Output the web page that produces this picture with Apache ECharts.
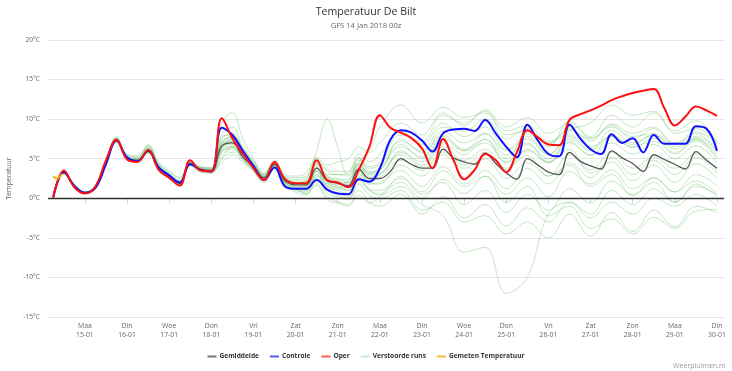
<!DOCTYPE html>
<html>
<head>
<meta charset="utf-8">
<script src="https://cdn.jsdelivr.net/npm/echarts@6/dist/echarts.min.js"></script>
<style>
html,body{margin:0;padding:0;background:#fff;}
#chart{width:732px;height:371px;}
</style>
</head>
<body>
<div id="chart"></div>
<script>
// ---- data (hours since 14-01-2018 00z) ----
const tickHours = [24,48,72,96,120,144,168,192,216,240,264,288,312,336,360,384];
const tickLabels = ['Maa\n15-01','Din\n16-01','Woe\n17-01','Don\n18-01','Vri\n19-01','Zat\n20-01','Zon\n21-01','Maa\n22-01','Din\n23-01','Woe\n24-01','Don\n25-01','Vri\n26-01','Zat\n27-01','Zon\n28-01','Maa\n29-01','Din\n30-01'];

const hours6 = [6,12,18,24,30,36,42,48,54,60,66,72,78,84,90,96,102,108,114,120,126,132,138,144,150,156,162,168,174,180,186,192,198,204,210,216,222,228,234,240,246,252,258,264,270,276,282,288,294,300,306,312,318,324,330,336,342,348,354,360,366,372,378,384];

const gemiddelde = [0.3,3.3,1.5,0.7,1.5,4.6,7.4,5.1,4.8,6.0, 3.9,2.8,1.9,4.4,3.6,3.5,6.6,7.0,5.2,4.0, 2.6,4.3,2.2,1.7,1.7,3.8,2.2,1.9,1.6,3.7, 2.5,2.5,3.4,5.0,4.3,3.8,3.8,6.2,5.1,4.6, 4.3,5.7,4.4,3.2,2.4,5.0,4.2,3.3,3.0,5.8, 4.7,4.1,3.7,6.0,5.1,4.4,3.4,5.5,4.9,4.3, 3.7,5.9,4.8,3.8];
const controle = [0.1,3.3,1.6,0.7,1.3,4.3,7.3,5.2,4.7,6.0, 3.9,2.9,2.0,4.3,3.6,3.4,8.9,8.0,6.0,4.1, 2.3,3.9,1.5,1.2,1.2,2.3,1.1,0.6,0.5,2.4, 2.1,3.8,7.4,8.6,8.3,7.3,5.9,8.2,8.7,8.8, 8.5,9.9,8.2,6.5,5.2,9.3,7.3,5.6,5.3,9.3, 7.6,6.2,5.6,8.1,7.0,7.6,5.8,8.0,6.9,6.9, 6.9,9.1,8.8,6.0];
const oper = [0.1,3.5,1.4,0.6,1.5,4.8,7.4,4.9,4.6,6.1, 3.6,2.6,1.6,4.8,3.5,3.4,10.1,7.6,5.6,3.8, 2.3,4.6,2.4,1.9,1.9,4.8,2.3,2.0,1.4,3.6, 6.5,10.5,8.9,8.3,7.6,6.3,3.8,7.5,4.8,2.4, 3.6,5.6,4.8,3.3,5.8,8.6,7.7,6.8,6.7,9.9, 10.6,11.1,11.7,12.4,12.9,13.3,13.6,13.8,11.4,9.2, 10.3,11.6,11.1,10.4];

const gemetenHours = [6,8,10,11];
const gemeten = [2.8,2.5,2.8,3.1];

const memberHours = [6,12,18,24,30,36,42,48,54,60,66,72,78,84,90,96,102,108,114,120,126,132,138,144,150,156,162,168,174,180,186,192,204,216,228,240,252,264,276,288,300,312,324,336,348,360,372,384];
const run01 = [0.4,3.6,1.6,0.6,1.4,4.8,7.8,5.0,4.6,6.3,4.0,2.9,1.8,4.6,3.8,3.6, 9.5,10.8,7.5,5.0,3.0,4.6,2.4,1.9,2.0,4.2,2.8,2.5,2.0,4.5,6.0,9.0, 11.8,9.5,11.5,10.2,10.8,8.0,8.5,7.0,8.6,7.5,9.0,7.8,8.2,6.8,7.8,6.5];
const run02 = [0.2,3.2,1.4,0.8,1.6,4.4,7.2,5.3,5.0,5.8,3.7,2.6,2.0,4.2,3.4,3.2, 5.0,6.5,5.0,3.6,2.2,4.0,1.8,1.0,0.8,2.6,1.0,0.6,0.2,2.8,1.2,1.0, 2.5,0.8,3.5,1.5,2.8,0.5,2.6,0.2,3.4,1.8,3.6,1.2,2.6,0.8,2.2,0.6];
const run03 = [0.3,3.4,1.5,0.7,1.5,4.7,7.6,5.6,5.4,6.6,4.2,3.0,2.1,4.3,3.9,3.8, 7.0,7.8,6.0,4.4,2.9,4.4,2.6,2.4,2.6,4.4,3.0,3.0,2.8,5.2,3.4,3.6, 7.5,5.8,8.0,6.2,7.4,5.0,8.2,6.5,9.8,7.8,10.5,9.0,10.8,8.5,9.8,7.0];
const run04 = [0.2,3.1,1.3,0.6,1.4,4.5,7.1,4.9,4.6,5.7,3.6,2.5,1.7,4.1,3.3,3.2, 5.5,6.2,4.8,3.4,2.0,3.8,1.6,1.2,1.0,3.0,1.4,1.0,0.6,2.6,1.0,0.4, 1.5,-0.8,-2.2,-6.8,-6.2,-12.0,-10.0,-2.0,-0.5,-2.5,-0.5,-2.0,0.0,-1.0,0.5,-1.0];
const run05 = [0.3,3.5,1.7,0.8,1.6,4.7,7.5,5.2,5.0,6.4,4.3,3.3,2.6,4.5,3.9,3.8, 7.5,8.2,6.0,4.2,2.8,4.4,2.6,2.0,2.2,6.0,10.0,6.5,3.0,4.4,2.8,3.0, 6.0,4.2,7.0,5.5,7.5,4.5,6.0,4.5,7.0,5.5,7.0,5.6,6.8,5.0,6.6,4.5];
const run06 = [0.3,3.3,1.6,0.7,1.5,4.6,7.3,5.4,5.2,6.8,4.6,3.5,2.6,4.5,4.0,3.9, 6.0,6.5,5.0,3.5,2.4,4.2,2.0,1.3,0.6,1.8,0.2,-0.4,-0.8,1.0,-0.5,-1.0, 0.5,-2.0,0.2,-2.5,-0.8,-3.5,-1.2,-3.0,-0.5,-2.0,1.0,-0.8,1.2,-0.5,1.5,0.5];
const run07 = [0.4,3.4,1.5,0.6,1.3,4.5,7.4,5.1,4.9,6.1,3.8,2.7,1.8,4.3,3.5,3.4, 6.8,7.2,5.6,4.2,2.8,4.6,2.4,1.8,2.4,5.2,4.2,4.6,5.0,6.5,5.8,7.0, 9.5,8.0,10.8,9.2,11.2,9.0,10.2,8.2,9.5,7.6,9.2,7.5,8.8,6.8,8.2,5.8];
const run08 = [0.2,3.2,1.5,0.7,1.5,4.6,7.4,5.0,4.7,5.9,3.8,2.8,1.9,4.4,3.6,3.5, 6.2,7.0,5.5,4.1,2.6,4.3,2.1,1.5,1.2,3.0,1.5,1.2,1.0,3.2,1.8,2.0, 3.5,1.5,4.0,1.8,3.5,1.2,3.8,1.8,4.5,2.6,5.2,3.0,4.8,3.0,5.2,3.2];
const run09 = [0.3,3.4,1.6,0.7,1.6,4.8,7.6,5.2,4.8,6.2,4.0,2.9,2.0,4.5,3.7,3.6, 8.0,9.0,6.5,4.6,3.0,4.6,2.6,2.2,2.2,4.0,2.6,2.2,2.0,4.0,3.0,3.5, 6.5,5.2,8.5,7.0,8.2,6.0,7.5,5.5,7.8,6.2,8.6,7.0,8.0,6.2,7.4,5.6];
const run10 = [0.2,3.3,1.4,0.7,1.5,4.5,7.3,5.0,4.7,5.8,3.6,2.5,1.6,4.2,3.4,3.3, 5.0,5.8,4.8,3.8,2.3,4.0,1.6,0.8,0.4,2.4,0.6,0.2,-0.2,1.8,0.4,0.0, 1.0,-1.5,-0.5,-3.0,-2.2,-4.5,-3.0,-5.0,-2.0,-4.8,-1.8,-4.2,-1.5,-3.6,-1.0,-1.8];
const run11 = [0.3,3.2,1.5,0.8,1.6,4.6,7.3,5.1,4.8,6.0,4.0,2.9,2.0,4.4,3.6,3.5, 6.5,7.4,5.8,4.3,2.7,4.5,2.3,1.8,1.5,3.4,2.0,1.6,1.4,3.0,2.0,1.8, 4.2,2.8,5.5,3.8,5.0,2.5,4.5,2.8,5.5,3.6,5.8,3.8,5.2,3.8,5.6,3.6];
const run12 = [0.4,3.5,1.6,0.7,1.5,4.7,7.6,5.3,5.0,6.4,4.2,3.1,2.2,4.6,3.8,3.7, 7.8,8.0,6.2,4.5,3.0,4.6,2.8,2.6,2.8,4.6,3.4,3.0,3.2,5.6,4.6,5.5, 8.5,6.8,9.5,7.8,9.0,6.2,7.8,5.6,7.5,6.0,8.0,6.5,7.2,5.6,7.5,5.2];
const run13 = [0.3,3.3,1.5,0.7,1.4,4.5,7.3,5.1,4.8,6.0,3.9,2.7,1.8,4.3,3.5,3.4, 5.8,6.4,5.2,3.9,2.5,4.2,2.0,1.4,1.6,3.6,1.8,1.4,1.0,3.6,2.4,3.0, 5.5,4.0,6.5,4.8,6.2,3.8,5.4,2.8,4.2,1.5,3.0,0.4,2.0,-0.5,1.8,0.2];
const run14 = [0.2,3.4,1.6,0.8,1.6,4.7,7.5,5.0,4.7,6.0,3.8,2.8,1.9,4.4,3.6,3.4, 7.2,7.6,5.6,4.0,2.6,4.3,2.4,2.0,1.6,3.8,2.4,2.0,1.8,4.8,3.8,4.2, 7.2,6.0,9.0,8.5,10.0,7.5,8.8,6.8,8.8,7.2,9.4,8.2,9.0,7.0,8.4,6.8];
const run15 = [0.3,3.3,1.5,0.7,1.5,4.6,7.4,5.1,4.8,6.1,3.9,2.8,1.9,4.4,3.6,3.5, 6.4,6.8,5.2,3.8,2.4,4.1,2.0,1.4,1.0,2.8,1.0,0.4,0.0,2.2,1.0,0.6, 2.8,0.5,2.0,-0.8,1.0,-1.8,0.5,-1.5,1.2,-0.6,2.2,0.4,2.6,0.8,3.0,1.6];
const run16 = [0.3,3.4,1.5,0.7,1.5,4.6,7.4,5.2,4.9,6.2,4.1,3.0,2.1,4.5,3.7,3.6, 6.6,7.2,5.6,4.1,2.7,4.4,2.3,1.9,2.0,4.4,2.8,2.4,2.4,4.4,3.2,3.2, 5.8,4.6,7.5,6.0,7.0,4.6,6.8,5.0,7.2,5.4,7.8,6.4,7.6,5.8,7.2,5.0];
const run17 = [0.3,3.2,1.4,0.6,1.4,4.4,7.2,5.0,4.7,5.9,3.8,2.7,1.8,4.3,3.5,3.4, 4.5,5.5,4.5,3.5,2.2,3.9,1.8,1.2,0.6,1.6,-0.2,-0.6,-1.0,0.4,-0.6,0.2, 2.0,0.0,2.4,0.6,2.8,-0.5,1.5,-2.2,-1.0,-3.8,-2.6,-4.5,-2.4,-3.8,-1.6,-1.4];
const run18 = [0.3,3.5,1.7,0.8,1.6,4.7,7.5,5.4,5.2,6.6,4.4,3.2,2.3,4.4,3.8,3.7, 7.0,7.8,6.4,4.8,3.2,4.8,3.0,2.8,3.2,5.0,3.6,3.4,3.4,5.0,4.0,4.5, 8.0,7.2,10.5,9.5,11.0,8.5,9.2,7.2,8.0,6.5,7.8,6.8,8.0,6.5,7.6,6.0];
const run19 = [0.3,3.3,1.5,0.7,1.5,4.6,7.4,5.0,4.7,5.8,3.8,2.7,1.8,4.3,3.5,3.4, 6.0,6.6,5.2,3.8,2.4,4.0,1.8,1.2,1.4,3.4,1.6,1.4,1.4,3.4,2.2,2.6, 4.8,3.5,5.8,4.2,5.8,3.6,6.2,4.6,8.5,9.5,11.8,10.5,11.0,8.2,8.8,7.2];
const run20 = [0.2,3.2,1.5,0.7,1.5,4.6,7.4,5.1,4.8,6.0,3.9,2.8,1.9,4.4,3.6,3.5, 6.8,7.5,5.8,4.2,2.6,4.3,2.2,1.6,1.4,3.4,1.8,1.8,2.2,4.2,3.2,3.8, 6.8,5.0,7.8,6.0,8.2,5.5,7.0,4.5,6.2,3.2,4.6,2.2,4.2,2.0,4.4,2.5];
const runs = [run01,run02,run03,run04,run05,run06,run07,run08,run09,run10,run11,run12,run13,run14,run15,run16,run17,run18,run19,run20];

const yTicks = [-15,-10,-5,0,5,10,15,20];

// ---- build ----
const pair = (hs, vs) => vs.map((v, i) => [hs[i], v]);
const FONT = 'Open Sans';
const GREEN = 'rgba(105,190,105,0.38)';

const series = [];
runs.forEach(r => {
  series.push({
    name: 'Verstoorde runs', type: 'line', data: pair(memberHours, r),
    smooth: 0.4, showSymbol: false, symbol: 'none', z: 1,
    lineStyle: { color: GREEN, width: 1 }, itemStyle: { color: 'rgba(205,236,205,1)' }
  });
});
series.push({
  name: 'Gemiddelde', type: 'line', data: pair(hours6, gemiddelde), smooth: 0.4,
  symbol: 'none', z: 3, lineStyle: { color: '#555555', width: 1.3 }, itemStyle: { color: '#777777' },
  markLine: { silent: true, symbol: 'none', label: { show: false },
    lineStyle: { color: '#333333', width: 1.4, type: 'solid' }, data: [{ yAxis: 0 }] }
});
series.push({
  name: 'Controle', type: 'line', data: pair(hours6, controle), smooth: 0.4,
  symbol: 'none', z: 4, lineStyle: { color: '#1010ff', width: 2 }, itemStyle: { color: '#5a5aff' }
});
series.push({
  name: 'Oper', type: 'line', data: pair(hours6, oper), smooth: 0.4,
  symbol: 'none', z: 5, lineStyle: { color: '#ff1010', width: 2 }, itemStyle: { color: '#ff5a5a' }
});
series.push({
  name: 'Gemeten Temperatuur', type: 'line', data: pair(gemetenHours, gemeten), smooth: 0.4,
  symbol: 'none', z: 6, lineStyle: { color: '#f7b500', width: 2 }, itemStyle: { color: '#f7c030' }
});

const chart = echarts.init(document.getElementById('chart'), null, { renderer: 'canvas' });
chart.setOption({
  animation: false,
  backgroundColor: '#ffffff',
  textStyle: { fontFamily: FONT },
  title: {
    text: 'Temperatuur De Bilt', left: 'center', top: 1, itemGap: 5,
    textStyle: { fontFamily: FONT, fontSize: 10.6, fontWeight: 'normal', color: '#333333' },
    subtext: 'GFS 14 Jan 2018 00z',
    subtextStyle: { fontFamily: FONT, fontSize: 7.6, color: '#666666' }
  },
  legend: {
    top: 348, left: 'center', itemWidth: 9, itemHeight: 2, itemGap: 11, icon: 'rect',
    data: ['Gemiddelde', 'Controle', 'Oper', 'Verstoorde runs', 'Gemeten Temperatuur'],
    textStyle: { fontFamily: FONT, fontSize: 6.6, fontWeight: 'bold', color: '#333333', padding: [0,0,0,-2] }
  },
  grid: { left: 48, right: 8, top: 40, bottom: 54, outerBoundsMode: 'none', containLabel: false },
  xAxis: {
    type: 'value', min: 3, max: 388,
    axisLine: { show: true, lineStyle: { color: '#ccd6eb', width: 1 } },
    axisTick: { show: true, length: 5, lineStyle: { color: '#ccd6eb' }, customValues: tickHours },
    axisLabel: {
      customValues: tickHours, color: '#666666', fontSize: 6.8, lineHeight: 8.5, margin: 5,
      fontFamily: FONT,
      formatter: v => { const i = tickHours.indexOf(v); return i >= 0 ? tickLabels[i] : ''; }
    },
    splitLine: { show: false }
  },
  yAxis: {
    type: 'value', min: yTicks[0], max: yTicks[yTicks.length - 1], interval: 5,
    name: 'Temperatuur', nameLocation: 'middle', nameGap: 32, nameRotate: 90,
    nameTextStyle: { color: '#666666', fontSize: 6.8, fontFamily: FONT },
    axisLine: { show: false }, axisTick: { show: false },
    axisLabel: { color: '#666666', fontSize: 6.6, margin: 8, fontFamily: FONT, formatter: '{value}°C' },
    splitLine: { lineStyle: { color: '#e6e6e6', width: 1 } }
  },
  graphic: [{
    type: 'text', right: 7, bottom: 2,
    style: { text: 'Weerpluimen.nl', fill: '#999999', font: '7px "Open Sans"' }
  }],
  series: series
});
</script>
</body>
</html>
